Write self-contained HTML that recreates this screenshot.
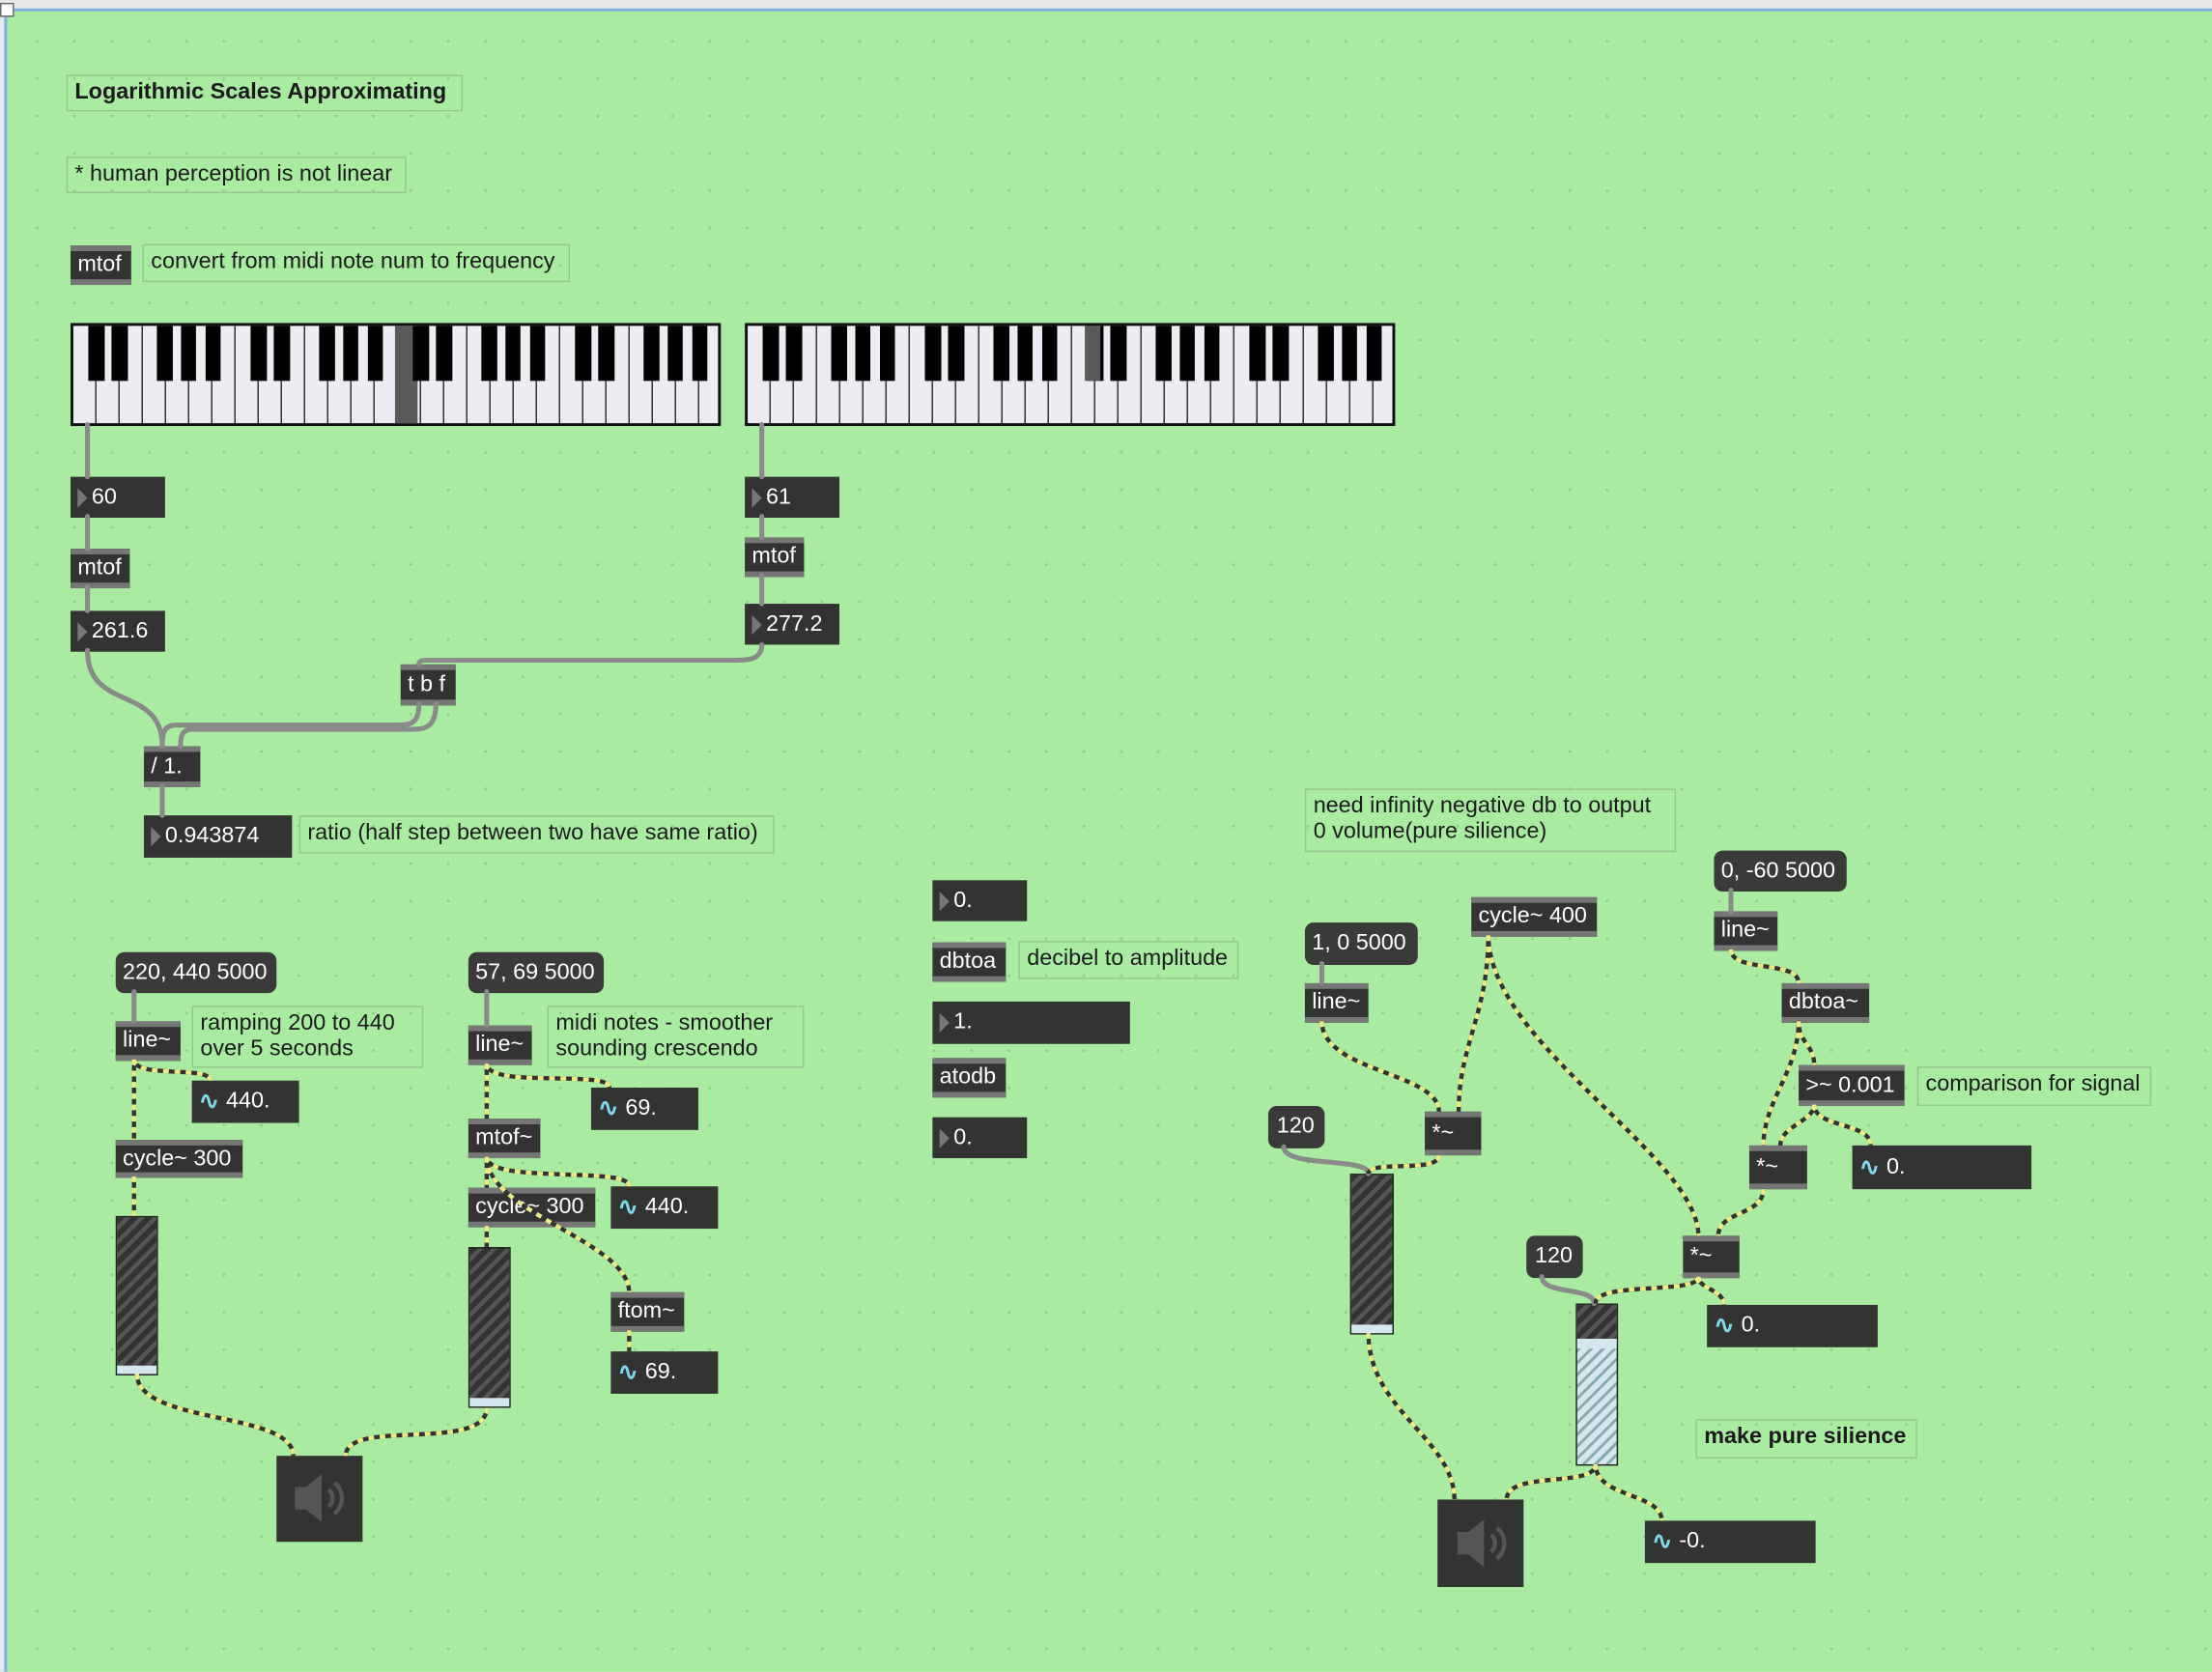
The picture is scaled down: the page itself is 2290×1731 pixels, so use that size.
<!DOCTYPE html>
<html><head><meta charset="utf-8"><style>
html,body{margin:0;padding:0;width:2290px;height:1730px;overflow:hidden;background:#e8e8e8}
#w{position:absolute;left:0;top:0;width:1568px;height:1185px;transform:scale(1.46046);transform-origin:0 0}
#bg{position:absolute;left:3px;top:6px;width:1565px;height:1179px;background-color:#a9eba1;border-top:2px solid #7fb0e0;border-left:2px solid #7fb0e0;box-sizing:border-box;
background-image:radial-gradient(circle,#8fcf88 0.8px,transparent 1.2px);background-size:26.5px 26.5px;background-position:8px 8px}
.o{position:absolute;box-sizing:border-box;background:#333;color:#fff;font:16px "Liberation Sans",sans-serif;display:flex;align-items:center;padding-left:5px;white-space:nowrap}
.ob{border-top:4px solid #767676;border-bottom:4px solid #767676}
.ms{border-radius:6px;background:#3a3a3a}
.nm::before{content:"";display:inline-block;width:0;height:0;border-left:7px solid #777;border-top:7px solid transparent;border-bottom:7px solid transparent;margin-right:3px}
.sg::before{content:"∿";color:#7fd8ea;font-weight:bold;margin-right:5px;font-size:17px}
.c{position:absolute;box-sizing:border-box;border:1.5px solid #94c78d;color:#1a1a1a;font:16px "Liberation Sans",sans-serif;padding:3px 5px;line-height:18px;white-space:nowrap}
.kb{position:absolute;box-sizing:border-box;border:2px solid #111;background-color:#ececf2;
background-image:repeating-linear-gradient(to right,transparent 0,transparent 15.43px,#333 15.43px,#333 16.43px)}
.bk{position:absolute;left:0;top:0;right:0;height:57%;
background-image:linear-gradient(to right,transparent 9.3%,#000 9.3%,#000 19.3%,transparent 19.3%,transparent 23.6%,#000 23.6%,#000 33.6%,transparent 33.6%,transparent 51.4%,#000 51.4%,#000 61.4%,transparent 61.4%,transparent 66.4%,#000 66.4%,#000 75.7%,transparent 75.7%,transparent 81.4%,#000 81.4%,#000 90.7%,transparent 90.7%);
background-size:115px 100%;background-repeat:repeat-x}
.sl{position:absolute;box-sizing:border-box;border:1.5px solid #222;background:repeating-linear-gradient(135deg,#333 0,#333 4px,#555 4px,#555 7px)}
.sp{position:absolute;background:#333}
</style></head><body>
<div id="w">
<div id="bg"></div>
<div style="position:absolute;left:0;top:2px;width:10px;height:10px;border:1px solid #666;background:#fff;box-sizing:border-box"></div>

<div class="c" style="left:47px;top:53px;width:281px;height:26px;font-weight:bold;font-size:16px">Logarithmic Scales Approximating</div>
<div class="c" style="left:47px;top:111px;width:241px;height:26px">* human perception is not linear</div>
<div class="o ob" style="left:50px;top:174px;width:43px;height:28px">mtof</div>
<div class="c" style="left:101px;top:173px;width:303px;height:27px">convert from midi note num to frequency</div>

<div class="kb" style="left:50px;top:229px;width:461px;height:73px"><div style="position:absolute;left:228px;top:0;width:16px;bottom:0;background:#5a5a5a"></div><div class="bk"></div></div>
<div class="kb" style="left:528px;top:229px;width:461px;height:73px"><div class="bk"></div><div style="position:absolute;left:239px;top:0;width:11px;height:57%;background:#5a5a5a"></div></div>

<div class="o nm" style="left:50px;top:338px;width:67px;height:29px">60</div>
<div class="o ob" style="left:50px;top:389px;width:42px;height:28px">mtof</div>
<div class="o nm" style="left:50px;top:433px;width:67px;height:29px">261.6</div>
<div class="o nm" style="left:528px;top:338px;width:67px;height:29px">61</div>
<div class="o ob" style="left:528px;top:381px;width:42px;height:28px">mtof</div>
<div class="o nm" style="left:528px;top:428px;width:67px;height:29px">277.2</div>
<div class="o ob" style="left:284px;top:471px;width:39px;height:29px">t b f</div>
<div class="o ob" style="left:102px;top:529px;width:40px;height:29px">/ 1.</div>
<div class="o nm" style="left:102px;top:578px;width:105px;height:30px">0.943874</div>
<div class="c" style="left:212px;top:578px;width:337px;height:27px">ratio (half step between two have same ratio)</div>

<div class="o ms" style="left:82px;top:675px;width:114px;height:29px">220, 440 5000</div>
<div class="o ob" style="left:82px;top:724px;width:46px;height:28px">line~</div>
<div class="c" style="left:136px;top:713px;width:164px;height:44px">ramping 200 to 440<br>over 5 seconds</div>
<div class="o sg" style="left:136px;top:766px;width:76px;height:30px">440.</div>
<div class="o ob" style="left:82px;top:808px;width:90px;height:27px">cycle~ 300</div>
<div class="sl" style="left:82px;top:862px;width:30px;height:113px"><div style="position:absolute;left:0;right:0;bottom:0;height:6px;background:#d4e6ee"></div></div>
<div class="sp" style="left:196px;top:1032px;width:61px;height:61px"></div>

<div class="o ms" style="left:332px;top:675px;width:96px;height:29px">57, 69 5000</div>
<div class="o ob" style="left:332px;top:727px;width:45px;height:28px">line~</div>
<div class="c" style="left:388px;top:713px;width:182px;height:44px">midi notes - smoother<br>sounding crescendo</div>
<div class="o sg" style="left:419px;top:771px;width:76px;height:30px">69.</div>
<div class="o ob" style="left:332px;top:793px;width:51px;height:28px">mtof~</div>
<div class="o ob" style="left:332px;top:842px;width:90px;height:28px">cycle~ 300</div>
<div class="o sg" style="left:433px;top:841px;width:76px;height:30px">440.</div>
<div class="sl" style="left:332px;top:884px;width:30px;height:114px"><div style="position:absolute;left:0;right:0;bottom:0;height:6px;background:#d4e6ee"></div></div>
<div class="o ob" style="left:433px;top:916px;width:52px;height:28px">ftom~</div>
<div class="o sg" style="left:433px;top:958px;width:76px;height:30px">69.</div>

<div class="o nm" style="left:661px;top:624px;width:67px;height:29px">0.</div>
<div class="o ob" style="left:661px;top:668px;width:52px;height:28px">dbtoa</div>
<div class="c" style="left:722px;top:667px;width:156px;height:27px">decibel to amplitude</div>
<div class="o nm" style="left:661px;top:710px;width:140px;height:30px">1.</div>
<div class="o ob" style="left:661px;top:750px;width:52px;height:28px">atodb</div>
<div class="o nm" style="left:661px;top:792px;width:67px;height:29px">0.</div>

<div class="c" style="left:925px;top:559px;width:263px;height:45px">need infinity negative db to output<br>0 volume(pure silience)</div>
<div class="o ms" style="left:925px;top:654px;width:80px;height:30px">1, 0 5000</div>
<div class="o ob" style="left:925px;top:697px;width:45px;height:28px">line~</div>
<div class="o ob" style="left:1043px;top:636px;width:89px;height:28px">cycle~ 400</div>
<div class="o ms" style="left:1215px;top:603px;width:94px;height:29px">0, -60 5000</div>
<div class="o ob" style="left:1215px;top:646px;width:45px;height:28px">line~</div>
<div class="o ob" style="left:1263px;top:697px;width:62px;height:28px">dbtoa~</div>
<div class="o ob" style="left:1275px;top:755px;width:75px;height:29px">&gt;~ 0.001</div>
<div class="c" style="left:1359px;top:756px;width:166px;height:28px">comparison for signal</div>
<div class="o ob" style="left:1240px;top:812px;width:41px;height:31px">*~</div>
<div class="o sg" style="left:1313px;top:812px;width:127px;height:31px">0.</div>
<div class="o ms" style="left:899px;top:784px;width:40px;height:30px;padding-left:6px">120</div>
<div class="o ob" style="left:1010px;top:788px;width:40px;height:31px">*~</div>
<div class="sl" style="left:957px;top:832px;width:31px;height:114px"><div style="position:absolute;left:0;right:0;bottom:0;height:6px;background:#d4e6ee"></div></div>
<div class="o ob" style="left:1193px;top:876px;width:40px;height:30px">*~</div>
<div class="o ms" style="left:1082px;top:876px;width:40px;height:30px;padding-left:6px">120</div>
<div class="o sg" style="left:1210px;top:925px;width:121px;height:30px">0.</div>
<div class="sl" style="left:1117px;top:924px;width:30px;height:115px;background:repeating-linear-gradient(135deg,#d4e6ee 0,#d4e6ee 4px,#8aa 4px,#8aa 6px)"><div style="position:absolute;left:0;right:0;top:0;height:24px;background:repeating-linear-gradient(135deg,#333 0,#333 4px,#555 4px,#555 7px)"></div><div style="position:absolute;left:0;right:0;top:24px;height:7px;background:#d4e6ee"></div></div>
<div class="c" style="left:1202px;top:1006px;width:157px;height:28px;font-weight:bold;font-size:16px">make pure silience</div>
<div class="sp" style="left:1019px;top:1063px;width:61px;height:62px"></div>
<div class="o sg" style="left:1166px;top:1078px;width:121px;height:30px">-0.</div>

<svg style="position:absolute;left:0;top:0" width="1568" height="1185" viewBox="0 0 1568 1185">
<defs>
<g id="spk"><path d="M-17,-8 L-9,-8 L2,-17 L2,17 L-9,8 L-17,8 Z" fill="#555"/><path d="M7,-6 A8,8 0 0 1 7,6 M11,-11 A14,14 0 0 1 11,11" stroke="#555" stroke-width="3" fill="none"/></g>
</defs>
<use href="#spk" x="226" y="1062"/>
<use href="#spk" x="1050" y="1094"/>
<g fill="none" stroke="#8a8a8a" stroke-width="3.5" stroke-linecap="round">
<path d="M62,301 L62,338 M62,366 L62,389 M62,416 L62,433"/>
<path d="M62,461 C62,505 115,485 115,529"/>
<path d="M540,301 L540,338 M540,366 L540,381 M540,408 L540,428"/>
<path d="M540,457 C540,468 530,468 520,468 L302,468 C297,468 297,470 297,471"/>
<path d="M297,499 C297,514 290,514 280,514 L125,514 C116,514 115,520 115,529"/>
<path d="M309,499 C309,517 300,517 290,517 L136,517 C129,517 128,522 128,529"/>
<path d="M115,557 L115,578"/>
<path d="M95,703 L95,724 M345,703 L345,727 M937,683 L937,697 M1227,631 L1227,646"/>
<path d="M910,813 C910,828 970,820 970,832"/>
<path d="M1093,905 C1093,918 1130,912 1130,924"/>
</g>
<g fill="none" stroke-width="3" stroke-linecap="butt">
<g stroke="#333">
<path id="s1" d="M95,751 L95,808 M95,751 C95,765 149,755 149,766 M95,834 L95,862 M97,974 C97,1010 208,1000 208,1032 M345,998 C345,1030 245,1005 245,1032 M345,754 L345,793 M345,754 C345,772 432,758 432,771 M345,820 L345,842 M345,820 C345,840 446,826 446,841 M345,820 C345,860 446,880 446,916 M345,869 L345,884 M446,943 L446,958 M937,724 C937,760 1020,760 1020,788 M1055,663 C1055,720 1034,740 1034,788 M1055,663 C1055,740 1204,820 1204,876 M1020,819 C1020,832 970,822 970,832 M970,945 C970,1000 1031,1020 1031,1063 M1227,673 C1227,690 1275,680 1275,697 M1275,724 C1275,740 1286,740 1286,755 M1275,724 C1275,760 1250,780 1250,812 M1286,783 C1286,795 1262,798 1262,812 M1286,783 C1286,800 1326,795 1326,812 M1250,843 C1250,862 1218,858 1218,876 M1204,905 C1204,918 1131,908 1131,924 M1204,905 C1204,914 1222,914 1222,925 M1131,1038 C1131,1055 1068,1042 1068,1063 M1131,1038 C1131,1062 1178,1058 1178,1078"/>
</g>
<use href="#s1" stroke="#e9ec86" stroke-dasharray="4 4"/>
</g>
</svg>
</div>
</body></html>
